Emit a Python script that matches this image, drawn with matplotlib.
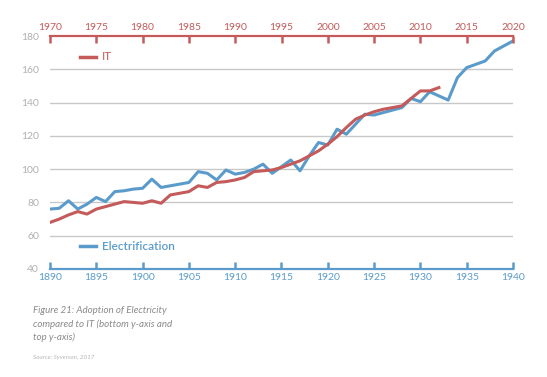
import matplotlib.pyplot as plt

plt.rcParams['font.family'] = ['Lato', 'DejaVu Sans']

# Electrification (bottom x-axis), 1890-1940
elec_years = list(range(1890, 1941))
elec_values = [76, 76.5, 81, 76, 79, 83, 80.5, 86.5, 87, 88,
               88.5, 94, 89, 90, 91, 92, 98.5, 97.5, 93.5, 99.5,
               97, 98, 100, 103, 97.5, 101.5, 105.5, 99, 108, 116,
               114.5, 124, 121, 127, 133, 132.5, 134, 135.5, 137, 142.5,
               140.5, 146.5, 144, 141.5, 155, 161, 163, 165, 171, 174,
               177]

# IT (top x-axis), 1970-2012
it_years = list(range(1970, 2013))
it_values = [68, 70, 72.5, 74.5, 73, 76, 77.5, 79, 80.5, 80,
             79.5, 81, 79.5, 84.5, 85.5, 86.5, 90, 89, 92, 92.5,
             93.5, 95, 98.5, 99, 99.5, 101, 103, 105, 108, 111,
             115, 119.5, 125, 130, 132.5, 134.5, 136, 137, 138, 142.5,
             147, 147, 149]

bottom_ticks = list(range(1890, 1941, 5))
top_ticks = list(range(1970, 2021, 5))
y_ticks = list(range(40, 181, 20))

BLUE = '#5b9bcb'
RED = '#c45a5a'
GREY = '#b0b0b0'

fig = plt.figure(figsize=(5.47, 3.77), dpi=100)
ax = fig.add_axes([50 / 547, 1 - 269 / 377, 463 / 547, 233 / 377])

# grid lines
for y in y_ticks[1:-1]:
    ax.axhline(y, color='#c8c8c8', lw=1.0, zorder=0)

ax.plot(elec_years, elec_values, color=BLUE, lw=2.2, zorder=3)
ax.set_xlim(1890, 1940)
ax.set_ylim(40, 180)
ax.set_xticks(bottom_ticks)
ax.set_yticks(y_ticks)
ax.tick_params(axis='x', colors=BLUE, direction='in', length=5, width=1.8,
               labelsize=7.5, pad=3, labelcolor=BLUE)
ax.tick_params(axis='y', length=0, labelsize=7.5, labelcolor=GREY, pad=8)
for s in ['left', 'right', 'top']:
    ax.spines[s].set_visible(False)
ax.spines['bottom'].set_color(BLUE)
ax.spines['bottom'].set_linewidth(1.6)

ax2 = ax.twiny()
ax2.plot(it_years, it_values, color=RED, lw=2.2, zorder=4)
ax2.set_xlim(1970, 2020)
ax2.set_xticks(top_ticks)
ax2.tick_params(axis='x', colors=RED, direction='in', length=5, width=1.8,
                labelsize=7.5, pad=3, labelcolor=RED)
for s in ['left', 'right', 'bottom']:
    ax2.spines[s].set_visible(False)
ax2.spines['top'].set_color(RED)
ax2.spines['top'].set_linewidth(1.6)
ax2.set_ylim(40, 180)

# legend-like labels
fig.add_artist(plt.Line2D([80 / 547, 96 / 547], [1 - 57 / 377] * 2,
                          color=RED, lw=2.5, transform=fig.transFigure))
fig.text(102 / 547, 1 - 57 / 377, 'IT', color=RED, fontsize=8.5,
         va='center', ha='left')
fig.add_artist(plt.Line2D([80 / 547, 96 / 547], [1 - 246 / 377] * 2,
                          color=BLUE, lw=2.5, transform=fig.transFigure))
fig.text(102 / 547, 1 - 246 / 377, 'Electrification', color=BLUE,
         fontsize=8.5, va='center', ha='left', fontweight='semibold')

# caption
fig.text(33 / 547, 1 - 306 / 377,
         'Figure 21: Adoption of Electricity\ncompared to IT (bottom y-axis and\ntop y-axis)',
         color='#8a8a8a', fontsize=7, style='italic', va='top', ha='left',
         linespacing=1.55)
fig.text(33 / 547, 1 - 357 / 377, 'Source: Syverson, 2017', color='#b5b5b5',
         fontsize=4.5, style='italic', va='center', ha='left')

fig.savefig('out.png', dpi=100)
